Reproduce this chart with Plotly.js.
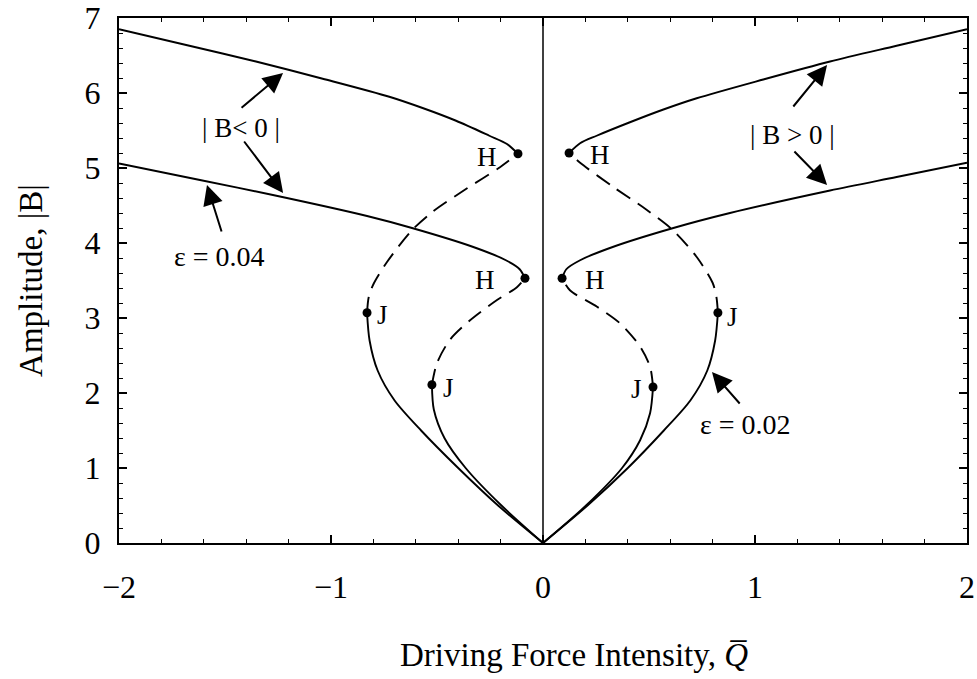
<!DOCTYPE html>
<html>
<head>
<meta charset="utf-8">
<script src="https://cdn.plot.ly/plotly-3.0.1.min.js"></script>
<style>
  html, body { margin: 0; padding: 0; background: #fff; }
  #chart { width: 977px; height: 679px; }
</style>
</head>
<body>
<div id="chart"></div>
<script>
// Frequency-response branches: amplitude |B| against driving force intensity Q.
// "o" = outer family (epsilon = 0.02), "i" = inner family (epsilon = 0.04).
// R = Q > 0 (B > 0), L = Q < 0 (B < 0). Stable branches solid, unstable dashed.

// ---- right side, outer family ----
const oR_lowQ = [0, 0.21, 0.40, 0.57, 0.695, 0.775, 0.812, 0.825];
const oR_lowB = [0, 0.50, 1.00, 1.50, 1.90, 2.30, 2.70, 3.07];
const oR_unsQ = [0.825, 0.818, 0.80, 0.726, 0.613, 0.49, 0.33, 0.175, 0.123];
const oR_unsB = [3.07, 3.28, 3.47, 3.81, 4.17, 4.44, 4.75, 5.07, 5.20];
const oR_upQ  = [0.123, 0.175, 0.253, 0.41, 0.568, 0.725, 1.039, 1.354, 1.668, 2.0];
const oR_upB  = [5.20, 5.33, 5.43, 5.61, 5.78, 5.93, 6.18, 6.42, 6.63, 6.85];

// ---- right side, inner family ----
const iR_lowQ = [0, 0.203, 0.373, 0.458, 0.505, 0.519];
const iR_lowB = [0, 0.50, 1.00, 1.37, 1.73, 2.08];
const iR_unsQ = [0.519, 0.505, 0.458, 0.363, 0.255, 0.127, 0.09];
const iR_unsB = [2.08, 2.35, 2.62, 2.93, 3.15, 3.37, 3.53];
const iR_upQ  = [0.09, 0.11, 0.175, 0.332, 0.615, 0.882, 1.354, 1.668, 2.0];
const iR_upB  = [3.53, 3.65, 3.77, 3.95, 4.20, 4.40, 4.70, 4.88, 5.07];

// ---- left side, outer family ----
const oL_lowQ = [0, -0.212, -0.40, -0.575, -0.70, -0.78, -0.818, -0.83];
const oL_lowB = [0, 0.50, 1.00, 1.50, 1.90, 2.30, 2.70, 3.07];
const oL_unsQ = [-0.83, -0.822, -0.80, -0.735, -0.618, -0.519, -0.358, -0.203, -0.118];
const oL_unsB = [3.07, 3.28, 3.45, 3.75, 4.17, 4.42, 4.73, 5.01, 5.19];
const oL_upQ  = [-0.118, -0.17, -0.253, -0.41, -0.568, -0.725, -1.039, -1.354, -1.668, -2.0];
const oL_upB  = [5.19, 5.32, 5.43, 5.63, 5.80, 5.95, 6.19, 6.42, 6.63, 6.85];

// ---- left side, inner family ----
const iL_lowQ = [0, -0.196, -0.365, -0.465, -0.515, -0.524];
const iL_lowB = [0, 0.50, 1.00, 1.40, 1.78, 2.11];
const iL_unsQ = [-0.524, -0.50, -0.439, -0.344, -0.217, -0.123, -0.085];
const iL_unsB = [2.11, 2.40, 2.71, 2.97, 3.24, 3.41, 3.53];
const iL_upQ  = [-0.085, -0.11, -0.175, -0.332, -0.618, -0.83, -1.274, -1.618, -2.0];
const iL_upB  = [3.53, 3.65, 3.77, 3.95, 4.20, 4.36, 4.64, 4.84, 5.06];

// trivial solution along Q = 0
const trivQ = [0, 0];
const trivB = [0, 7];

// Hopf (H) and jump (J) points
const hopfQ = [-0.118, -0.085, 0.123, 0.09];
const hopfB = [5.19, 3.53, 5.20, 3.53];
const jumpQ = [-0.83, -0.524, 0.825, 0.519];
const jumpB = [3.07, 2.11, 3.07, 2.08];

// axis ticks
const xTicks = [-2, -1, 0, 1, 2];
const yTicks = [0, 1, 2, 3, 4, 5, 6, 7];

const FONT = 'Liberation Serif, Times New Roman, serif';
const solid = { color: '#000', width: 1.9, shape: 'spline', smoothing: 0.8 };
const dashed = { color: '#000', width: 1.9, shape: 'spline', smoothing: 0.8, dash: '16px,9px' };

function branch(q, b, line) {
  return { x: q, y: b, type: 'scatter', mode: 'lines', line: line, hoverinfo: 'skip', showlegend: false };
}

const data = [
  branch(trivQ, trivB, { color: '#000', width: 1.5 }),
  branch(oR_lowQ, oR_lowB, solid), branch(oR_unsQ, oR_unsB, dashed), branch(oR_upQ, oR_upB, solid),
  branch(iR_lowQ, iR_lowB, solid), branch(iR_unsQ, iR_unsB, dashed), branch(iR_upQ, iR_upB, solid),
  branch(oL_lowQ, oL_lowB, solid), branch(oL_unsQ, oL_unsB, dashed), branch(oL_upQ, oL_upB, solid),
  branch(iL_lowQ, iL_lowB, solid), branch(iL_unsQ, iL_unsB, dashed), branch(iL_upQ, iL_upB, solid),
  { x: hopfQ, y: hopfB, type: 'scatter', mode: 'markers', marker: { color: '#000', size: 9 }, hoverinfo: 'skip', showlegend: false },
  { x: jumpQ, y: jumpB, type: 'scatter', mode: 'markers', marker: { color: '#000', size: 9 }, hoverinfo: 'skip', showlegend: false }
];

function label(x, y, text, size) {
  return { x: x, y: y, xref: 'x', yref: 'y', text: text, showarrow: false,
           font: { family: FONT, size: size || 27, color: '#000' }, xanchor: 'center', yanchor: 'middle' };
}
function arrow(x0, y0, x1, y1) {
  return { x: x1, y: y1, ax: x0, ay: y0, xref: 'x', yref: 'y', axref: 'x', ayref: 'y', text: '',
           showarrow: true, arrowhead: 2, arrowsize: 2, arrowwidth: 2, arrowcolor: '#000', standoff: 0, startstandoff: 0 };
}

const annotations = [
  label(-1.425, 5.53, '| B&lt; 0 |'),
  arrow(-1.429, 5.787, -1.226, 6.267),
  arrow(-1.415, 5.373, -1.226, 4.667),
  label(-1.528, 3.82, 'ε = 0.04', 28),
  arrow(-1.514, 4.133, -1.585, 4.773),
  label(1.179, 5.44, '| B &gt; 0 |'),
  arrow(1.175, 5.80, 1.340, 6.373),
  arrow(1.179, 5.24, 1.340, 4.773),
  label(0.953, 1.58, 'ε = 0.02', 28),
  arrow(0.934, 1.84, 0.797, 2.28),
  label(-0.264, 5.15, 'H'), label(-0.274, 3.51, 'H'),
  label(0.269, 5.17, 'H'), label(0.245, 3.51, 'H'),
  label(-0.755, 3.04, 'J'), label(-0.448, 2.07, 'J'),
  label(0.896, 3.02, 'J'), label(0.439, 2.06, 'J'),
  // horizontal axis title
  { x: 0.5366, y: -0.213, xref: 'paper', yref: 'paper', showarrow: false,
    text: 'Driving Force Intensity, <i>Q\u0305</i>', xanchor: 'center', yanchor: 'middle',
    font: { family: FONT, size: 33, color: '#000' } }
];

const axisCommon = {
  showgrid: false, zeroline: false, showline: true, linecolor: '#000', linewidth: 2,
  mirror: 'allticks', ticks: 'inside', ticklen: 8, tickwidth: 1.5, tickcolor: '#000',
  tickfont: { family: FONT, size: 32, color: '#000' },
  minor: { ticks: 'inside', ticklen: 4, tickwidth: 1, tickcolor: '#000', dtick: 0.2 }
};

const layout = {
  width: 977, height: 679,
  margin: { l: 119, r: 10, t: 18, b: 136 },
  paper_bgcolor: '#fff', plot_bgcolor: '#fff',
  showlegend: false,
  xaxis: Object.assign({}, axisCommon, {
    range: [-2, 2], tickvals: xTicks, ticklabelstandoff: 15
  }),
  yaxis: Object.assign({}, axisCommon, {
    range: [0, 7], tickvals: yTicks, ticklabelstandoff: 10,
    title: { text: 'Amplitude, |B|', standoff: 32,
             font: { family: FONT, size: 33, color: '#000' } }
  }),
  annotations: annotations
};

Plotly.newPlot('chart', data, layout, { staticPlot: true, displayModeBar: false });
</script>
</body>
</html>
